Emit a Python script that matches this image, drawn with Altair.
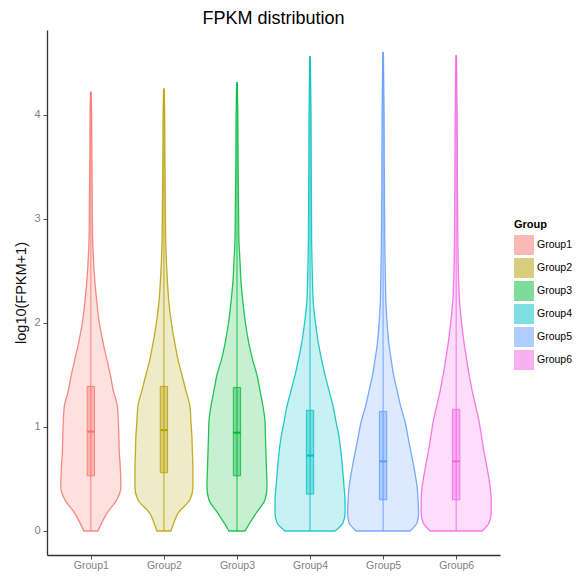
import altair as alt
import pandas as pd

groups = ["Group1", "Group2", "Group3", "Group4", "Group5", "Group6"]
colors = ["#F8766D", "#B79F00", "#00BA38", "#00BFC4", "#619CFF", "#F564E3"]

# violin profile: shared y levels (log10(FPKM+1)) and half widths (in group units)
y_levels = [0, 0.08, 0.17, 0.3, 0.42, 0.6, 0.75, 0.9, 1.05, 1.2, 1.35, 1.5,
            1.65, 1.8, 2.0, 2.2, 2.4, 2.6, 2.8, 3.2, 3.6, 4.0]
g1_width = [0.096, 0.151, 0.219, 0.356, 0.411, 0.404, 0.39, 0.384, 0.377, 0.363, 0.308,
            0.267, 0.219, 0.171, 0.116, 0.082, 0.055, 0.037, 0.025, 0.019, 0.014, 0.011]
g2_width = [0.096, 0.137, 0.192, 0.356, 0.397, 0.397, 0.39, 0.384, 0.37, 0.356, 0.301,
            0.247, 0.192, 0.151, 0.103, 0.068, 0.048, 0.034, 0.025, 0.019, 0.014, 0.011]
g3_width = [0.11, 0.178, 0.26, 0.384, 0.411, 0.404, 0.397, 0.39, 0.384, 0.356, 0.315,
            0.274, 0.212, 0.164, 0.116, 0.082, 0.055, 0.041, 0.027, 0.021, 0.015, 0.012]
g4_width = [0.342, 0.452, 0.479, 0.479, 0.466, 0.445, 0.425, 0.397, 0.356, 0.315, 0.26,
            0.205, 0.158, 0.116, 0.075, 0.044, 0.034, 0.027, 0.022, 0.019, 0.016, 0.014]
g5_width = [0.37, 0.466, 0.486, 0.479, 0.466, 0.425, 0.384, 0.342, 0.301, 0.24, 0.192,
            0.144, 0.11, 0.079, 0.055, 0.038, 0.032, 0.027, 0.023, 0.019, 0.016, 0.014]
g6_width = [0.356, 0.452, 0.479, 0.479, 0.466, 0.425, 0.384, 0.349, 0.315, 0.267, 0.219,
            0.178, 0.144, 0.11, 0.075, 0.048, 0.034, 0.027, 0.023, 0.019, 0.016, 0.014]
widths = [g1_width, g2_width, g3_width, g4_width, g5_width, g6_width]
y_max = [4.22, 4.25, 4.31, 4.56, 4.60, 4.57]
y_min = [0, 0, 0, 0, 0, 0]
top_width = 0.004

# boxplot statistics
q1 = [0.53, 0.56, 0.53, 0.355, 0.30, 0.30]
median = [0.955, 0.97, 0.945, 0.725, 0.67, 0.67]
q3 = [1.39, 1.39, 1.38, 1.16, 1.15, 1.17]
box_half = 0.05

rows = []
for i, g in enumerate(groups):
    pos = i + 1
    for y, w in zip(y_levels + [y_max[i]], widths[i] + [top_width]):
        rows.append({"Group": g, "y": y, "xl": pos - w, "xr": pos + w})
vdf = pd.DataFrame(rows)

bdf = pd.DataFrame({
    "Group": groups,
    "pos": list(range(1, 7)),
    "bl": [p - box_half for p in range(1, 7)],
    "br": [p + box_half for p in range(1, 7)],
    "q1": q1, "med": median, "q3": q3, "ymin": y_min, "ymax": y_max,
})

FONT = "Liberation Sans"
x_scale = alt.Scale(domain=[0.4, 6.6], nice=False, zero=False)
y_scale = alt.Scale(domain=[-0.231, 4.817], nice=False, zero=False)
cscale = alt.Scale(domain=groups, range=colors)

x_axis = alt.Axis(values=[1, 2, 3, 4, 5, 6], labelExpr="'Group' + datum.value",
                  grid=False, domainColor="#333333", domainWidth=1.3,
                  tickColor="#555555", tickSize=4, labelColor="#7f7f7f",
                  labelFontSize=10.5, labelFont=FONT, labelPadding=1,
                  labelFlush=False, labelOverlap=False, title=None)
y_axis = alt.Axis(values=[0, 1, 2, 3, 4], format="d", grid=False,
                  domainColor="#333333", domainWidth=1.3, tickColor="#555555",
                  tickSize=4, labelColor="#7f7f7f", labelFontSize=11,
                  labelFont=FONT, labelPadding=3, labelFlush=False,
                  title="log10(FPKM+1)", titleFont=FONT, titleFontSize=14.5,
                  titleFontWeight="normal", titleColor="#111111", titlePadding=5)

legend = alt.Legend(title="Group", orient="none", legendX=467, legendY=189,
                    symbolType="square", symbolSize=361, symbolOpacity=0.5,
                    symbolStrokeWidth=1, rowPadding=-1, titleFont=FONT,
                    titleFontSize=11, titleFontWeight="bold", titleColor="#000000",
                    titlePadding=5, labelFont=FONT, labelFontSize=10.5,
                    labelColor="#000000", labelOffset=3, labelLimit=60)

violin = alt.Chart(vdf).mark_area(
    orient="horizontal", interpolate="monotone", fillOpacity=0.22,
    strokeWidth=1.3, strokeOpacity=0.85
).encode(
    y=alt.Y("y:Q", scale=y_scale, axis=y_axis),
    x=alt.X("xl:Q", scale=x_scale, axis=x_axis),
    x2="xr:Q",
    fill=alt.Fill("Group:N", scale=cscale, legend=legend),
    stroke=alt.Stroke("Group:N", scale=cscale, legend=None),
)

whisker = alt.Chart(bdf).mark_rule(strokeWidth=1.1, opacity=0.8).encode(
    x=alt.X("pos:Q", scale=x_scale),
    y=alt.Y("ymin:Q", scale=y_scale),
    y2="ymax:Q",
    stroke=alt.Stroke("Group:N", scale=cscale, legend=None),
)

box = alt.Chart(bdf).mark_rect(fillOpacity=0.4, strokeWidth=1, strokeOpacity=0.8).encode(
    x=alt.X("bl:Q", scale=x_scale),
    x2="br:Q",
    y=alt.Y("q1:Q", scale=y_scale),
    y2="q3:Q",
    fill=alt.Fill("Group:N", scale=cscale, legend=None),
    stroke=alt.Stroke("Group:N", scale=cscale, legend=None),
)

med = alt.Chart(bdf).mark_rule(strokeWidth=2).encode(
    x=alt.X("bl:Q", scale=x_scale),
    x2="br:Q",
    y=alt.Y("med:Q", scale=y_scale),
    stroke=alt.Stroke("Group:N", scale=cscale, legend=None),
)

chart = alt.layer(violin, whisker, box, med).properties(
    width=453, height=525,
    title=alt.TitleParams("FPKM distribution", font=FONT, fontSize=18,
                          fontWeight="normal", color="#000000", anchor="middle",
                          offset=2, frame="group"),
    autosize=alt.AutoSizeParams(type="none"),
    padding={"left": 39, "top": 22, "right": 74, "bottom": 16},
).configure_view(stroke=None)

chart.save("out.html", embed_options={"renderer": "svg", "actions": False})
